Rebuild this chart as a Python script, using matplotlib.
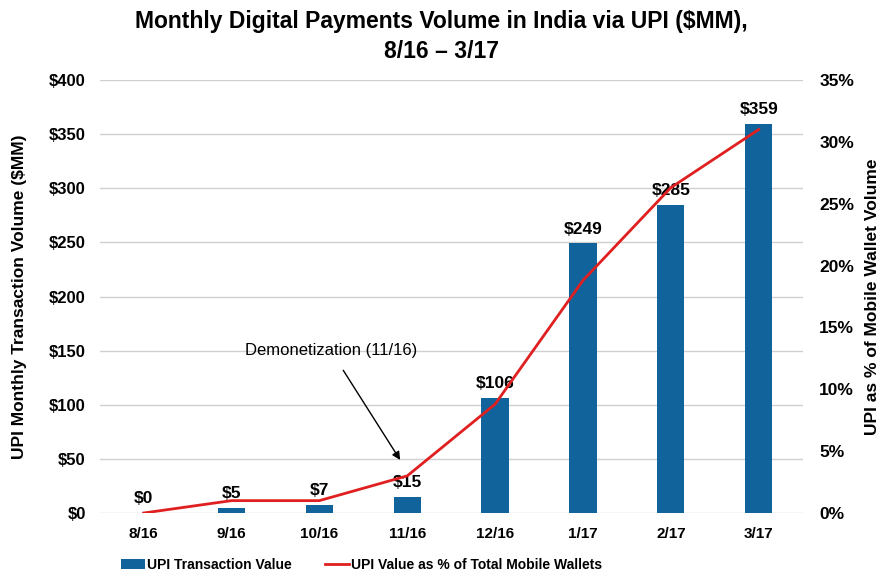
import matplotlib.pyplot as plt
from matplotlib.ticker import FuncFormatter

plt.rcParams['font.family'] = ['Liberation Sans', 'DejaVu Sans']

months = ['8/16', '9/16', '10/16', '11/16', '12/16', '1/17', '2/17', '3/17']
upi_value = [0, 5, 7, 15, 106, 249, 285, 359]          # $MM
upi_share = [0.0, 1.0, 1.0, 3.0, 8.8, 18.8, 26.3, 31.0]  # % of mobile wallets

bar_color = '#11639b'
line_color = '#e02020'

fig = plt.figure(figsize=(8.82, 5.8), dpi=100)
ax = fig.add_axes([0.113, 0.1155, 0.797, 0.7465])
x = list(range(len(months)))

ax.bar(x, upi_value, width=0.31, color=bar_color, zorder=2, label='UPI Transaction Value')
for xi, v in zip(x, upi_value):
    ax.annotate('$%d' % v, (xi, v), xytext=(0, 5), textcoords='offset points',
                ha='center', va='bottom', fontsize=12.5, fontweight='bold', zorder=5)

ax.set_ylim(0, 400)
ax.set_yticks(range(0, 401, 50))
ax.yaxis.set_major_formatter(FuncFormatter(lambda v, p: '$%d' % v))
ax.set_xlim(-0.5, 7.5)
ax.set_xticks(x)
ax.set_xticklabels(months)
ax.grid(axis='y', color='#d0d0d0', linewidth=1, zorder=0)
ax.set_axisbelow(True)
for s in ax.spines.values():
    s.set_visible(False)
ax.tick_params(axis='y', length=0, labelsize=12, pad=10)
ax.tick_params(axis='x', length=0, labelsize=11, pad=10)
for lbl in ax.get_xticklabels() + ax.get_yticklabels():
    lbl.set_fontweight('bold')
ax.set_ylabel('UPI Monthly Transaction Volume ($MM)', fontsize=12.5, fontweight='bold', labelpad=16)

ax2 = ax.twinx()
ax2.plot(x, upi_share, color=line_color, linewidth=2, zorder=3,
         label='UPI Value as % of Total Mobile Wallets')
ax2.set_ylim(0, 35)
ax2.set_yticks(range(0, 36, 5))
ax2.yaxis.set_major_formatter(FuncFormatter(lambda v, p: '%d%%' % v))
for s in ax2.spines.values():
    s.set_visible(False)
ax2.tick_params(length=0, labelsize=12.5, pad=12)
for lbl in ax2.get_yticklabels():
    lbl.set_fontweight('bold')
ax2.set_ylabel('UPI as % of Mobile Wallet Volume', fontsize=12.5, fontweight='bold', labelpad=8)

ax.annotate('Demonetization (11/16)', xy=(2.92, 49), xytext=(2.13, 150),
            ha='center', va='center', fontsize=12,
            arrowprops=dict(arrowstyle='-|>', color='black', lw=1, shrinkA=8, shrinkB=0))

fig.suptitle('Monthly Digital Payments Volume in India via UPI ($MM),\n8/16 \u2013 3/17',
             fontsize=16.5, fontweight='bold', y=0.982, linespacing=1.35)

h1, l1 = ax.get_legend_handles_labels()
h2, l2 = ax2.get_legend_handles_labels()
fig.legend(h1 + h2, l1 + l2, loc='lower center', ncol=2, frameon=False,
           bbox_to_anchor=(0.41, -0.008), handlelength=1.7,
           columnspacing=2.4, handletextpad=0.15,
           prop={'size': 10, 'weight': 'bold'})

fig.savefig('out.png', dpi=100)
